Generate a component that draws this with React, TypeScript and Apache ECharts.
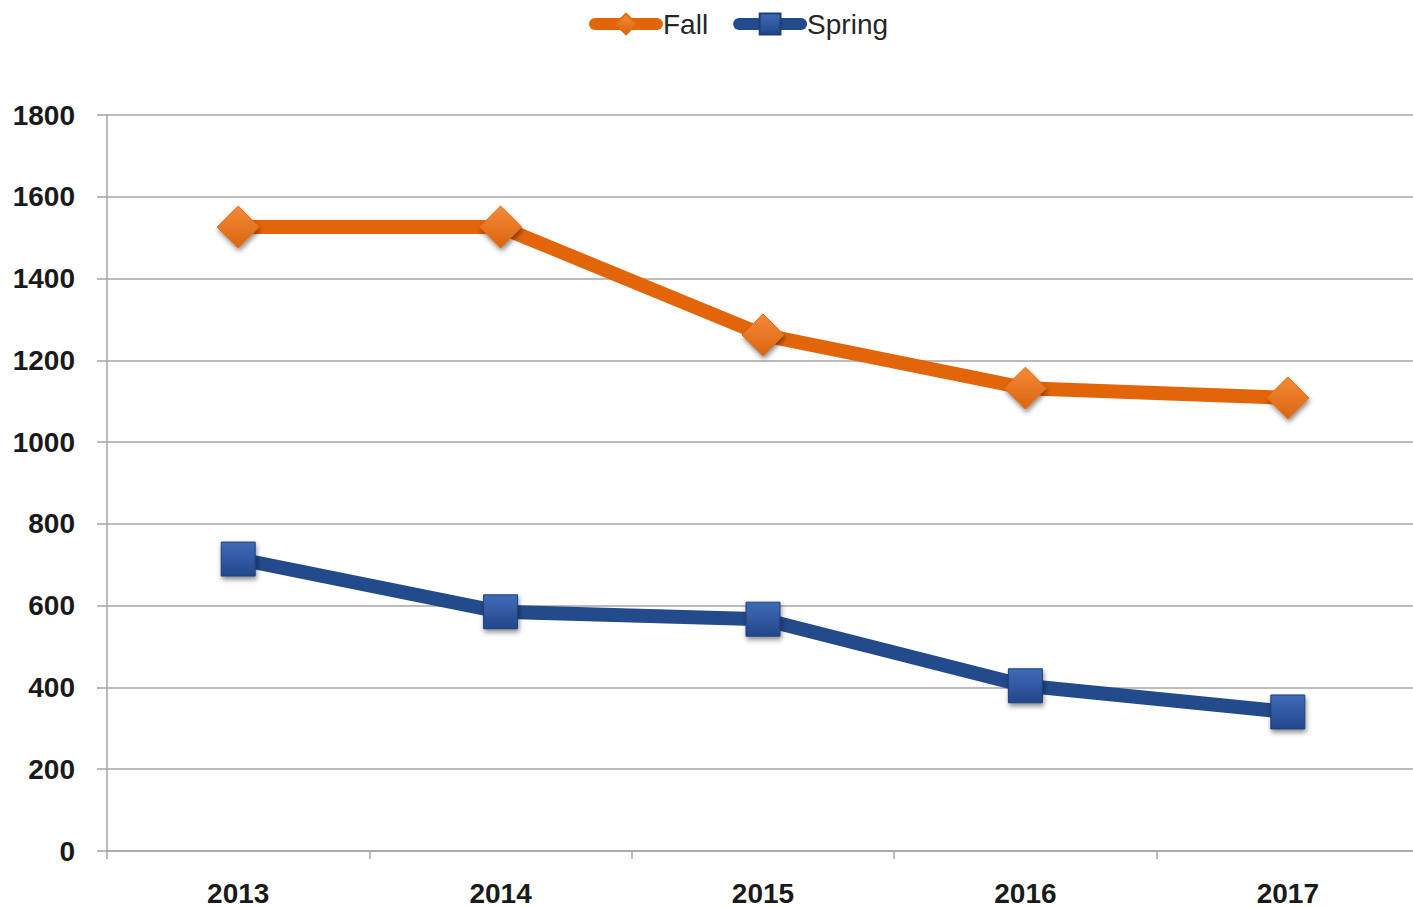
import React, { useEffect, useRef } from "react";
import * as echarts from "echarts";

const years = ["2013", "2014", "2015", "2016", "2017"];
const fallValues = [1526, 1526, 1262, 1132, 1108];
const springValues = [714, 585, 567, 404, 340];
const yTicks = { min: 0, max: 1800, interval: 200 };

const FONT = "'Liberation Sans', Arial, sans-serif";

export default function App() {
  const ref = useRef<HTMLDivElement>(null);
  useEffect(() => {
    document.body.style.margin = "0";
    document.body.style.overflow = "hidden";
    const chart = echarts.init(ref.current!, null, { renderer: "svg" });
    const shadow = {
      shadowBlur: 5,
      shadowOffsetX: 1,
      shadowOffsetY: 3,
      shadowColor: "rgba(0,0,0,0.45)",
    };
    const fallGrad = new echarts.graphic.LinearGradient(0, 0, 0, 1, [
      { offset: 0, color: "#F58A3A" },
      { offset: 1, color: "#D9650F" },
    ]);
    const springGrad = new echarts.graphic.LinearGradient(0, 0, 0, 1, [
      { offset: 0, color: "#3F6BB8" },
      { offset: 1, color: "#23468A" },
    ]);
    chart.setOption({
      animation: false,
      backgroundColor: "#ffffff",
      legend: {
        top: 5,
        left: 584,
        itemWidth: 62,
        itemHeight: 26,
        itemGap: 25,
        lineStyle: { width: 12, cap: "round" },
        textStyle: { fontFamily: FONT, fontSize: 28, color: "#262626", padding: [0, 0, 0, 1] },
        data: ["Fall", "Spring"],
      },
      grid: { left: 107, right: 0, top: 115, bottom: 56, containLabel: false },
      xAxis: {
        type: "category",
        data: years,
        boundaryGap: true,
        axisLine: { lineStyle: { color: "#a6a6a6", width: 1.5 } },
        axisTick: { show: true, length: 8, lineStyle: { color: "#a6a6a6", width: 1.5 } },
        axisLabel: { fontFamily: FONT, fontWeight: "bold", fontSize: 28, color: "#1a1a1a", margin: 28 },
      },
      yAxis: {
        type: "value",
        min: yTicks.min,
        max: yTicks.max,
        interval: yTicks.interval,
        axisLine: { show: true, lineStyle: { color: "#a6a6a6", width: 1.5 } },
        axisTick: { show: true, length: 10, lineStyle: { color: "#a6a6a6", width: 1.5 } },
        splitLine: { show: true, lineStyle: { color: "#a6a6a6", width: 1.5 } },
        axisLabel: {
          fontFamily: FONT,
          fontWeight: "bold",
          fontSize: 28,
          color: "#1a1a1a",
          margin: 32,
          formatter: (v: number) => String(v),
        },
      },
      series: [
        {
          name: "Fall",
          type: "line",
          data: fallValues,
          symbol: "diamond",
          symbolSize: [42, 42],
          lineStyle: { color: "#E3650A", width: 14 },
          itemStyle: {
            color: fallGrad,
            borderColor: "#E36C0A",
            borderWidth: 1,
            ...shadow,
          },
          z: 2,
        },
        {
          name: "Spring",
          type: "line",
          data: springValues,
          symbol: "rect",
          symbolSize: [34, 34],
          lineStyle: { color: "#234A8A", width: 14 },
          itemStyle: {
            color: springGrad,
            borderColor: "#1F3F7A",
            borderWidth: 1,
            ...shadow,
          },
          z: 3,
        },
      ],
    });
    return () => chart.dispose();
  }, []);
  return (
    <div
      ref={ref}
      style={{ position: "absolute", left: 0, top: 0, width: 1419, height: 907 }}
    />
  );
}
